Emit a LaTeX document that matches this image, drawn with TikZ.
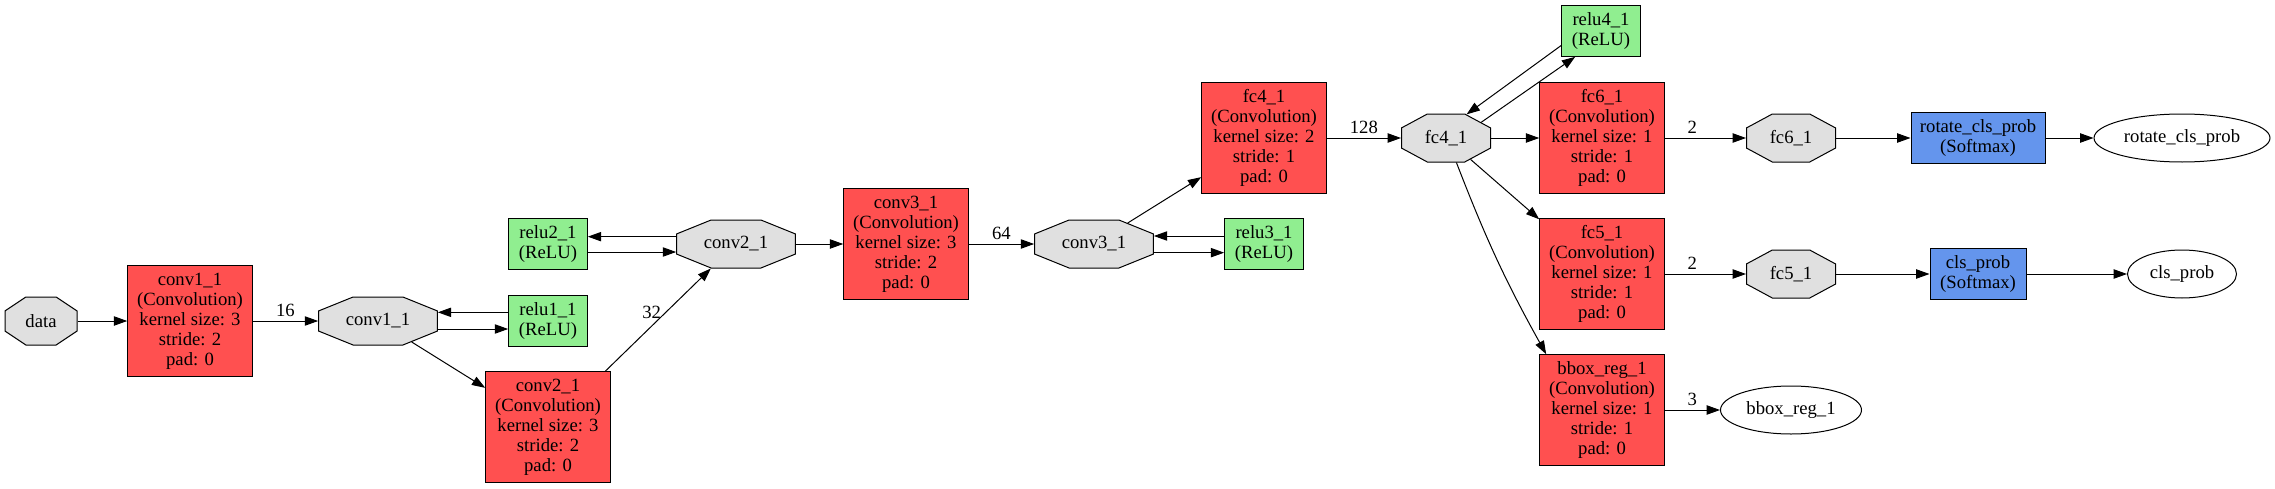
\documentclass[tikz,border=0pt]{standalone}
\usepackage{fontspec}
\setmainfont{Liberation Serif}
\usetikzlibrary{arrows.meta, shapes.geometric}

\definecolor{convred}{HTML}{FF5050}
\definecolor{relugreen}{HTML}{90EE90}
\definecolor{softblue}{HTML}{6495ED}
\definecolor{blobgray}{HTML}{E0E0E0}

% stretched octagon for the blobs
\makeatletter
\def\octofrac{0.29}
\pgfdeclareshape{octo}{%
  \inheritsavedanchors[from=rectangle]%
  \inheritanchor[from=rectangle]{center}%
  \inheritanchor[from=rectangle]{north}%
  \inheritanchor[from=rectangle]{south}%
  \inheritanchor[from=rectangle]{east}%
  \inheritanchor[from=rectangle]{west}%
  \inheritanchor[from=rectangle]{text}%
  \inheritanchor[from=rectangle]{base}%
  \inheritanchor[from=rectangle]{mid}%
  \backgroundpath{%
    \southwest \edef\octxa{\pgf@sys@tonumber\pgf@x}\edef\octya{\pgf@sys@tonumber\pgf@y}%
    \northeast \edef\octxb{\pgf@sys@tonumber\pgf@x}\edef\octyb{\pgf@sys@tonumber\pgf@y}%
    \pgfmathsetmacro\octox{\pgfkeysvalueof{/pgf/outer xsep}}%
    \pgfmathsetmacro\octoy{\pgfkeysvalueof{/pgf/outer ysep}}%
    \pgfmathsetmacro\octxa{\octxa+\octox}%
    \pgfmathsetmacro\octxb{\octxb-\octox}%
    \pgfmathsetmacro\octya{\octya+\octoy}%
    \pgfmathsetmacro\octyb{\octyb-\octoy}%
    \pgfmathsetmacro\octcx{\octofrac*(\octxb-\octxa)}%
    \pgfmathsetmacro\octcy{\octofrac*(\octyb-\octya)}%
    \pgfmathsetmacro\octxl{\octxa+\octcx}%
    \pgfmathsetmacro\octxr{\octxb-\octcx}%
    \pgfmathsetmacro\octyl{\octya+\octcy}%
    \pgfmathsetmacro\octyu{\octyb-\octcy}%
    \pgfpathmoveto{\pgfqpoint{\octxl pt}{\octya pt}}%
    \pgfpathlineto{\pgfqpoint{\octxr pt}{\octya pt}}%
    \pgfpathlineto{\pgfqpoint{\octxb pt}{\octyl pt}}%
    \pgfpathlineto{\pgfqpoint{\octxb pt}{\octyu pt}}%
    \pgfpathlineto{\pgfqpoint{\octxr pt}{\octyb pt}}%
    \pgfpathlineto{\pgfqpoint{\octxl pt}{\octyb pt}}%
    \pgfpathlineto{\pgfqpoint{\octxa pt}{\octyu pt}}%
    \pgfpathlineto{\pgfqpoint{\octxa pt}{\octyl pt}}%
    \pgfpathclose
  }%
  \anchorborder{%
    \edef\octdx{\pgf@sys@tonumber\pgf@x}\edef\octdy{\pgf@sys@tonumber\pgf@y}%
    \southwest \edef\octxa{\pgf@sys@tonumber\pgf@x}\edef\octya{\pgf@sys@tonumber\pgf@y}%
    \northeast \edef\octxb{\pgf@sys@tonumber\pgf@x}\edef\octyb{\pgf@sys@tonumber\pgf@y}%
    \pgfmathsetmacro\octA{0.5*(\octxb-\octxa)}%
    \pgfmathsetmacro\octB{0.5*(\octyb-\octya)}%
    \pgfmathsetmacro\octcx{2*\octofrac*\octA}%
    \pgfmathsetmacro\octcy{2*\octofrac*\octB}%
    \pgfmathsetmacro\octr{max(veclen(\octdx,\octdy),0.001)}%
    \pgfmathsetmacro\octu{abs(\octdx)/\octr}%
    \pgfmathsetmacro\octv{abs(\octdy)/\octr}%
    \pgfmathsetmacro\octt{min(\octA/max(\octu,0.01), \octB/max(\octv,0.01),
      (\octA*\octcy+\octB*\octcx-\octcx*\octcy)/(\octu*\octcy+\octv*\octcx))}%
    \pgfmathsetmacro\octpx{0.5*(\octxa+\octxb)+\octt*\octdx/\octr}%
    \pgfmathsetmacro\octpy{0.5*(\octya+\octyb)+\octt*\octdy/\octr}%
    \pgf@x=\octpx pt\relax
    \pgf@y=\octpy pt\relax
  }%
}
\makeatother

\tikzset{
  every node/.style={font=\fontsize{14}{15}\selectfont, align=center, line width=0.75pt, inner sep=0pt},
  layer/.style={draw, shape=rectangle},
  conv/.style={layer, fill=convred, minimum width=93.4pt, minimum height=83pt},
  relu/.style={layer, fill=relugreen, minimum width=59pt, minimum height=38pt},
  soft/.style={layer, fill=softblue, minimum height=38pt},
  blob/.style={draw, shape=octo, fill=blobgray, minimum height=36pt},
  outblob/.style={draw, shape=ellipse, minimum height=36pt},
  flow/.style={line width=0.75pt, -{Triangle[length=10pt, width=7pt]}},
  num/.style={inner sep=3pt}
}

\begin{document}
\begin{tikzpicture}[x=0.75pt, y=-0.75pt]
    \useasboundingbox (0,0) rectangle (2275,489);
    % input and conv1
    \node(data)[blob, minimum width=54pt] at (41,321) {data};
    \node(conv1)[conv] at (190,321) {conv1\_1\\(Convolution)\\kernel size: 3\\stride: 2\\pad: 0};
    \node(conv1b)[blob, minimum width=89pt] at (378,321) {conv1\_1};
    \node(relu1)[relu] at (548,321) {relu1\_1\\(ReLU)};
    % conv2
    \node(conv2)[conv] at (548,427) {conv2\_1\\(Convolution)\\kernel size: 3\\stride: 2\\pad: 0};
    \node(relu2)[relu] at (548,244) {relu2\_1\\(ReLU)};
    \node(conv2b)[blob, minimum width=89pt] at (736,244) {conv2\_1};
    % conv3
    \node(conv3)[conv] at (906,244) {conv3\_1\\(Convolution)\\kernel size: 3\\stride: 2\\pad: 0};
    \node(conv3b)[blob, minimum width=89pt] at (1094,244) {conv3\_1};
    \node(relu3)[relu] at (1264,244) {relu3\_1\\(ReLU)};
    % fc4
    \node(fc4)[conv] at (1264,138) {fc4\_1\\(Convolution)\\kernel size: 2\\stride: 1\\pad: 0};
    \node(fc4b)[blob, minimum width=66.75pt] at (1446,138) {fc4\_1};
    \node(relu4)[relu] at (1601,31) {relu4\_1\\(ReLU)};
    % heads
    \node(fc6)[conv] at (1602,138) {fc6\_1\\(Convolution)\\kernel size: 1\\stride: 1\\pad: 0};
    \node(fc5)[conv] at (1602,274) {fc5\_1\\(Convolution)\\kernel size: 1\\stride: 1\\pad: 0};
    \node(bbox)[conv] at (1602,410) {bbox\_reg\_1\\(Convolution)\\kernel size: 1\\stride: 1\\pad: 0};
    \node(fc6b)[blob, minimum width=66.75pt] at (1791,138) {fc6\_1};
    \node(fc5b)[blob, minimum width=66.75pt] at (1791,274) {fc5\_1};
    \node(bboxout)[outblob, minimum width=105.75pt] at (1791,410) {bbox\_reg\_1};
    \node(rotprob)[soft, minimum width=100.5pt] at (1978,138) {rotate\_cls\_prob\\(Softmax)};
    \node(clsprob)[soft, minimum width=72pt] at (1978,274) {cls\_prob\\(Softmax)};
    \node(rotout)[outblob, minimum width=132pt] at (2182,138) {rotate\_cls\_prob};
    \node(clsout)[outblob, minimum width=81.75pt] at (2182,274) {cls\_prob};

    \draw[flow] (data) -- (conv1);
    \draw[flow] (conv1) -- (conv1b) node[num, above, midway] {16};
    \draw[flow] ([yshift=6.5pt]relu1.west) -- ([yshift=6.5pt]conv1b.east);
    \draw[flow] ([yshift=-6pt]conv1b.east) -- ([yshift=-6pt]relu1.west);
    \draw[flow] (conv1b) -- (conv2);
    \draw[flow] (conv2) -- (conv2b) node[num, left, pos=0.57] {32};
    \draw[flow] ([yshift=5.5pt]conv2b.west) -- ([yshift=5.5pt]relu2.east);
    \draw[flow] ([yshift=-6pt]relu2.east) -- ([yshift=-6pt]conv2b.west);
    \draw[flow] (conv2b) -- (conv3);
    \draw[flow] (conv3) -- (conv3b) node[num, above, midway] {64};
    \draw[flow] ([yshift=6pt]relu3.west) -- ([yshift=6pt]conv3b.east);
    \draw[flow] ([yshift=-6.5pt]conv3b.east) -- ([yshift=-6.5pt]relu3.west);
    \draw[flow] (conv3b) -- (fc4);
    \draw[flow] (fc4) -- (fc4b) node[num, above, midway] {128};
    \draw[flow] (relu4.200) -- (fc4b.49);
    \draw[flow] (fc4b.24) -- (relu4.225);
    \draw[flow] (fc4b) -- (fc6);
    \draw[flow] (fc4b) -- (fc5);
    \draw[flow] (fc4b.-67) to[bend right=4] (bbox.135);
    \draw[flow] (fc6) -- (fc6b) node[num, above, pos=0.34] {2};
    \draw[flow] (fc5) -- (fc5b) node[num, above, pos=0.34] {2};
    \draw[flow] (bbox) -- (bboxout) node[num, above, midway] {3};
    \draw[flow] (fc6b) -- (rotprob);
    \draw[flow] (rotprob) -- (rotout);
    \draw[flow] (fc5b) -- (clsprob);
    \draw[flow] (clsprob) -- (clsout);
\end{tikzpicture}
\end{document}
